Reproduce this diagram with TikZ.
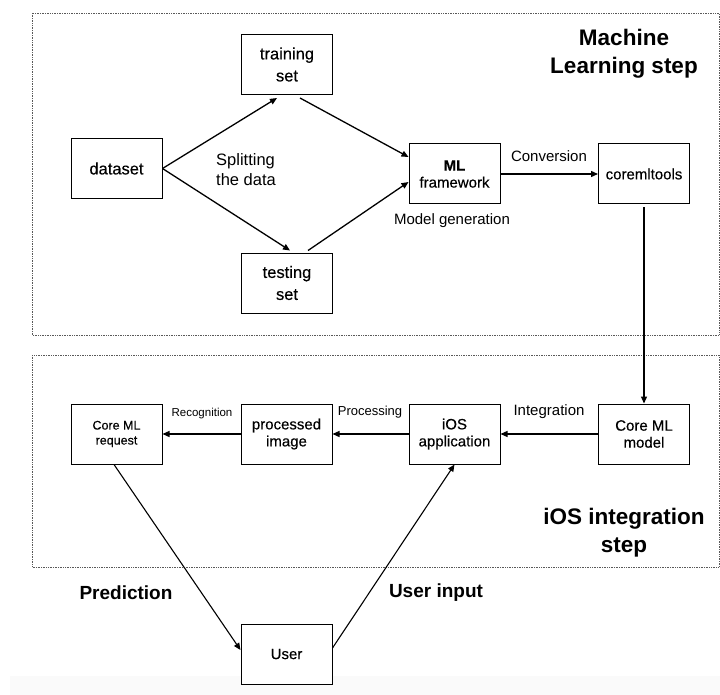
\documentclass[tikz,border=0pt]{standalone}
\usepackage{fontspec}
\setmainfont{Liberation Sans}
\newfontfamily\medfont[FakeBold=0.3]{Liberation Sans}
\usetikzlibrary{arrows.meta}
\begin{document}
\begin{tikzpicture}[x=1pt,y=-1pt,
  box/.style={draw,line width=1pt,minimum width=91pt,minimum height=60pt,inner sep=0pt,align=center,fill=white},
  bigtext/.style={font=\medfont\fontsize{16.5}{22}\selectfont},
  midtext/.style={font=\medfont\fontsize{15}{17}\selectfont},
  smalltext/.style={font=\medfont\fontsize{12.5}{15}\selectfont},
  lbl/.style={inner sep=0pt,align=center},
  title/.style={inner sep=0pt,align=center,font=\bfseries\fontsize{22.5}{28}\selectfont},
  flow/.style={line width=1.3pt,-{Triangle[length=7pt,width=6pt]}},
  region/.style={draw=black!65,line width=0.7pt,densely dotted}]
\useasboundingbox (0,0) rectangle (720,695);
\fill[black!2] (10,676) rectangle (720,695);
% regions
\draw[region] (32,13) rectangle (719,335);
\draw[region] (32,355) rectangle (719,567);
% top nodes
\node[box,bigtext] (train) at (287,64.5) {training\\set};
\node[box,bigtext] (dataset) at (116.5,168.5) {dataset};
\node[box,bigtext] (test) at (287,283) {testing\\set};
\node[box,midtext] (mlf) at (454.5,174) {\textbf{ML}\\framework};
\node[box,midtext] (cmt) at (644,174) {coremltools};
% bottom nodes
\node[box,smalltext] (req) at (116.5,434) {Core ML\\request};
\node[box,midtext] (proc) at (286.5,434) {processed\\image};
\node[box,midtext] (ios) at (454.5,434) {iOS\\application};
\node[box,midtext] (model) at (644,434) {Core ML\\model};
\node[box,midtext] (user) at (286.5,654) {User};
% connectors
\draw[flow] (dataset.east) -- ([xshift=-10pt,yshift=-3pt]train.south);
\draw[flow] (dataset.east) -- ([xshift=3pt,yshift=2pt]test.north);
\draw[flow] ([xshift=13pt,yshift=-3pt]train.south) -- ([yshift=17pt]mlf.west);
\draw[flow] ([xshift=21pt,yshift=2pt]test.north) -- ([yshift=-8pt]mlf.west);
\draw[flow] (mlf.east) -- (cmt.west);
\draw[flow] ([yshift=-3pt]cmt.south) -- (model.north);
\draw[flow] (model.west) -- (ios.east);
\draw[flow] (ios.west) -- (proc.east);
\draw[flow] (proc.west) -- (req.east);
\draw[flow,line width=1.1pt] ([xshift=-2.5pt]req.south) -- ([yshift=4pt]user.west);
\draw[flow,line width=1.1pt] ([yshift=6pt]user.east) -- (ios.south);
% labels
\node[lbl,anchor=west,font=\fontsize{16.5}{20}\selectfont,align=left] (split) at (216,170) {Splitting\\the data};
\node[lbl,font=\fontsize{15}{17}\selectfont] (conv) at (549,156) {Conversion};
\node[lbl,font=\fontsize{15}{17}\selectfont] (gen) at (452,221) {Model generation};
\node[title] (mlstep) at (624,54) {Machine\\Learning step};
\node[lbl,font=\fontsize{11.5}{14}\selectfont] (recog) at (202,414) {Recognition};
\node[lbl,font=\fontsize{13}{15}\selectfont] (procl) at (370,412) {Processing};
\node[lbl,font=\fontsize{15}{17}\selectfont] (integ) at (549,412) {Integration};
\node[title] (iosstep) at (624,533) {iOS integration\\step};
\node[lbl,font=\bfseries\fontsize{19}{22}\selectfont] (pred) at (126,593) {Prediction};
\node[lbl,font=\bfseries\fontsize{19}{22}\selectfont] (uin) at (436,593) {User input};
\end{tikzpicture}
\end{document}
